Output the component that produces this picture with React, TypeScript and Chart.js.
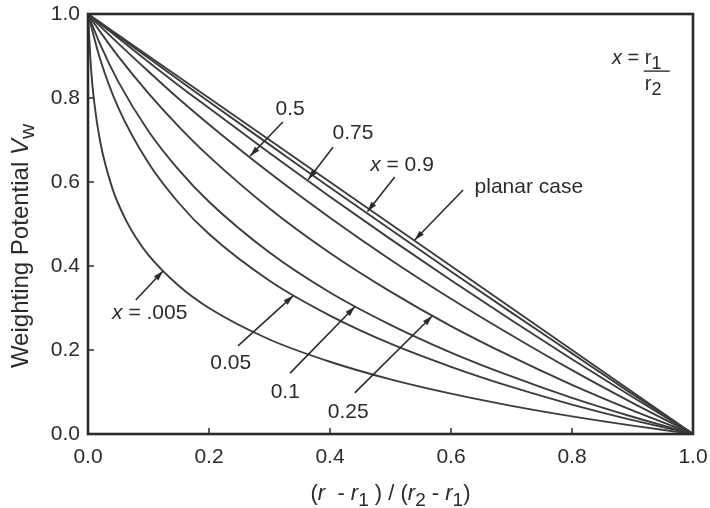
import React, { useEffect, useRef } from "react";
import { Chart, registerables } from "chart.js";

Chart.register(...registerables);

// ---- data ----
const uFine = [0, 0.005, 0.01, 0.02, 0.04, 0.06, 0.08, 0.1, 0.15, 0.2, 0.3, 0.4, 0.5, 0.6, 0.7, 0.8, 0.9, 1.0];
const vX0005 = [1, 0.870, 0.793, 0.697, 0.586, 0.517, 0.466, 0.426, 0.353, 0.300, 0.225, 0.172, 0.130, 0.096, 0.067, 0.042, 0.020, 0];

const uCommon = [0, 0.02, 0.05, 0.1, 0.15, 0.2, 0.3, 0.4, 0.5, 0.6, 0.7, 0.8, 0.9, 1.0];
const vX005 = [1, 0.893, 0.777, 0.645, 0.550, 0.476, 0.365, 0.282, 0.215, 0.160, 0.112, 0.070, 0.033, 0];
const vX010 = [1, 0.928, 0.839, 0.721, 0.629, 0.553, 0.432, 0.337, 0.260, 0.194, 0.137, 0.086, 0.041, 0];
const vX025 = [1, 0.958, 0.899, 0.811, 0.732, 0.661, 0.537, 0.431, 0.339, 0.257, 0.184, 0.117, 0.056, 0];
const vX050 = [1, 0.971, 0.930, 0.863, 0.798, 0.737, 0.622, 0.515, 0.415, 0.322, 0.235, 0.152, 0.074, 0];
const vX075 = [1, 0.977, 0.943, 0.886, 0.830, 0.776, 0.669, 0.565, 0.464, 0.366, 0.271, 0.178, 0.088, 0];
const vX090 = [1, 0.979, 0.947, 0.895, 0.843, 0.791, 0.689, 0.587, 0.487, 0.387, 0.289, 0.192, 0.095, 0];
const vPlanar = [1, 0.98, 0.95, 0.9, 0.85, 0.8, 0.7, 0.6, 0.5, 0.4, 0.3, 0.2, 0.1, 0];

const tickValues = [0, 0.2, 0.4, 0.6, 0.8, 1.0];

type Part = { t: string; italic?: boolean; sub?: boolean };
type Note = { label: Part[]; lx: number; ly: number; align: "center" | "left"; from: [number, number]; to: [number, number] };

// curve annotations: label anchor and arrow (data coordinates)
const notes: Note[] = [
  { label: [{ t: "0.5" }], lx: 0.334, ly: 0.774, align: "center", from: [0.322, 0.743], to: [0.268, 0.662] },
  { label: [{ t: "0.75" }], lx: 0.438, ly: 0.717, align: "center", from: [0.405, 0.683], to: [0.364, 0.606] },
  { label: [{ t: "x", italic: true }, { t: " = 0.9" }], lx: 0.519, ly: 0.640, align: "center", from: [0.507, 0.612], to: [0.462, 0.530] },
  { label: [{ t: "planar case" }], lx: 0.639, ly: 0.588, align: "left", from: [0.620, 0.581], to: [0.540, 0.462] },
  { label: [{ t: "x", italic: true }, { t: " = .005" }], lx: 0.102, ly: 0.288, align: "center", from: [0.079, 0.319], to: [0.124, 0.388] },
  { label: [{ t: "0.05" }], lx: 0.236, ly: 0.169, align: "center", from: [0.248, 0.210], to: [0.339, 0.329] },
  { label: [{ t: "0.1" }], lx: 0.326, ly: 0.100, align: "center", from: [0.334, 0.145], to: [0.441, 0.303] },
  { label: [{ t: "0.25" }], lx: 0.430, ly: 0.052, align: "center", from: [0.441, 0.098], to: [0.569, 0.281] },
];

const yTitle: Part[] = [{ t: "Weighting Potential " }, { t: "V", italic: true }, { t: "w", sub: true }];
const xTitle: Part[] = [
  { t: "(" }, { t: "r", italic: true }, { t: "  - " }, { t: "r", italic: true }, { t: "1", sub: true },
  { t: " ) / (" }, { t: "r", italic: true }, { t: "2", sub: true }, { t: " - " }, { t: "r", italic: true },
  { t: "1", sub: true }, { t: ")" },
];

const FONT = '"Liberation Sans", Arial, Helvetica, sans-serif';
const INK = "#2b2b2b";
const LINE = "#3c3c3c";

function fontFor(p: Part, size: number) {
  const s = p.sub ? Math.round(size * 0.88) : size;
  return `${p.italic ? "italic " : ""}${s}px ${FONT}`;
}

function measureParts(ctx: CanvasRenderingContext2D, parts: Part[], size: number) {
  let w = 0;
  for (const p of parts) {
    ctx.font = fontFor(p, size);
    w += ctx.measureText(p.t).width;
  }
  return w;
}

function drawParts(ctx: CanvasRenderingContext2D, parts: Part[], x: number, y: number, size: number) {
  let cx = x;
  ctx.textBaseline = "middle";
  ctx.textAlign = "left";
  for (const p of parts) {
    ctx.font = fontFor(p, size);
    ctx.fillText(p.t, cx, p.sub ? y + size * 0.32 : y);
    cx += ctx.measureText(p.t).width;
  }
}

const overlayPlugin = {
  id: "overlay",
  afterDatasetsDraw(chart: any) {
    const { ctx, chartArea: a, scales } = chart;
    const xs = scales.x;
    const ys = scales.y;
    ctx.save();
    // inner tick marks
    ctx.strokeStyle = INK;
    ctx.lineWidth = 1.5;
    for (const v of tickValues) {
      if (v === 0 || v === 1) continue;
      const px = xs.getPixelForValue(v);
      ctx.beginPath();
      ctx.moveTo(px, a.bottom);
      ctx.lineTo(px, a.bottom - 6);
      ctx.stroke();
      const py = ys.getPixelForValue(v);
      ctx.beginPath();
      ctx.moveTo(a.left, py);
      ctx.lineTo(a.left + 6, py);
      ctx.stroke();
    }
    // frame
    ctx.lineWidth = 2.6;
    ctx.strokeRect(a.left, a.top, a.right - a.left, a.bottom - a.top);

    // annotations
    ctx.fillStyle = INK;
    const size = 21;
    for (const n of notes) {
      const x0 = xs.getPixelForValue(n.from[0]);
      const y0 = ys.getPixelForValue(n.from[1]);
      const x1 = xs.getPixelForValue(n.to[0]);
      const y1 = ys.getPixelForValue(n.to[1]);
      ctx.strokeStyle = INK;
      ctx.lineWidth = 1.6;
      ctx.beginPath();
      ctx.moveTo(x0, y0);
      ctx.lineTo(x1, y1);
      ctx.stroke();
      const ang = Math.atan2(y1 - y0, x1 - x0);
      const hl = 10, hw = 3;
      ctx.beginPath();
      ctx.moveTo(x1, y1);
      ctx.lineTo(x1 - hl * Math.cos(ang) + hw * Math.sin(ang), y1 - hl * Math.sin(ang) - hw * Math.cos(ang));
      ctx.lineTo(x1 - hl * Math.cos(ang) - hw * Math.sin(ang), y1 - hl * Math.sin(ang) + hw * Math.cos(ang));
      ctx.closePath();
      ctx.fill();
      const lx = xs.getPixelForValue(n.lx);
      const ly = ys.getPixelForValue(n.ly);
      const w = measureParts(ctx, n.label, size);
      drawParts(ctx, n.label, n.align === "center" ? lx - w / 2 : lx, ly, size);
    }

    // x = r1 / r2 legend
    const ks = 20;
    const kx = xs.getPixelForValue(0.866);
    const ky = ys.getPixelForValue(0.895);
    const lead: Part[] = [{ t: "x", italic: true }, { t: " = " }];
    drawParts(ctx, lead, kx, ky, ks);
    const fx = kx + measureParts(ctx, lead, ks);
    drawParts(ctx, [{ t: "r" }, { t: "1", sub: true }], fx, ky, ks);
    ctx.lineWidth = 1.4;
    ctx.beginPath();
    ctx.moveTo(fx - 1, ky + 13);
    ctx.lineTo(fx + 25, ky + 13);
    ctx.stroke();
    drawParts(ctx, [{ t: "r" }, { t: "2", sub: true }], fx, ky + 26, ks);

    // axis titles
    const xts = 22;
    const xw = measureParts(ctx, xTitle, xts);
    drawParts(ctx, xTitle, (a.left + a.right) / 2 - xw / 2, 494, xts);
    const yts = 24;
    ctx.save();
    ctx.translate(21, 246);
    ctx.rotate(-Math.PI / 2);
    const yw = measureParts(ctx, yTitle, yts);
    drawParts(ctx, yTitle, -yw / 2, 0, yts);
    ctx.restore();
    ctx.restore();
  },
};

function series(xs: number[], vs: number[]) {
  return xs.map((x, i) => ({ x, y: vs[i] }));
}

export default function App() {
  const ref = useRef<HTMLCanvasElement | null>(null);
  useEffect(() => {
    if (!ref.current) return;
    const mk = (label: string, data: { x: number; y: number }[]) => ({
      label,
      data,
      borderColor: LINE,
      borderWidth: 1.9,
      pointRadius: 0,
      fill: false,
      cubicInterpolationMode: "monotone" as const,
    });
    const chart = new Chart(ref.current, {
      type: "line",
      data: {
        datasets: [
          mk("x = .005", series(uFine, vX0005)),
          mk("x = 0.05", series(uCommon, vX005)),
          mk("x = 0.1", series(uCommon, vX010)),
          mk("x = 0.25", series(uCommon, vX025)),
          mk("x = 0.5", series(uCommon, vX050)),
          mk("x = 0.75", series(uCommon, vX075)),
          mk("x = 0.9", series(uCommon, vX090)),
          mk("planar case", series(uCommon, vPlanar)),
        ],
      },
      options: {
        animation: false,
        responsive: false,
        devicePixelRatio: 1,
        layout: { padding: { top: 14, right: 17, left: 0, bottom: 0 } },
        plugins: { legend: { display: false }, tooltip: { enabled: false } },
        scales: {
          x: {
            type: "linear",
            min: 0,
            max: 1,
            afterBuildTicks: (s: any) => { s.ticks = tickValues.map((v) => ({ value: v })); },
            afterFit: (s: any) => { s.height = 74; s.paddingLeft = 0; s.paddingRight = 0; },
            grid: { display: false, drawTicks: false },
            border: { display: false },
            ticks: {
              padding: 11,
              color: INK,
              font: { family: FONT, size: 21 },
              maxRotation: 0,
              callback: (v: any) => Number(v).toFixed(1),
            },
          },
          y: {
            type: "linear",
            min: 0,
            max: 1,
            afterBuildTicks: (s: any) => { s.ticks = tickValues.map((v) => ({ value: v })); },
            afterFit: (s: any) => { s.width = 88; s.paddingTop = 0; s.paddingBottom = 0; },
            grid: { display: false, drawTicks: false },
            border: { display: false },
            ticks: {
              padding: 8,
              color: INK,
              font: { family: FONT, size: 21 },
              callback: (v: any) => Number(v).toFixed(1),
            },
          },
        },
      },
      plugins: [overlayPlugin],
    });
    return () => chart.destroy();
  }, []);
  return (
    <div style={{ position: "absolute", left: 0, top: 0, width: 710, height: 508, background: "#fff" }}>
      <canvas ref={ref} width={710} height={508} />
    </div>
  );
}
